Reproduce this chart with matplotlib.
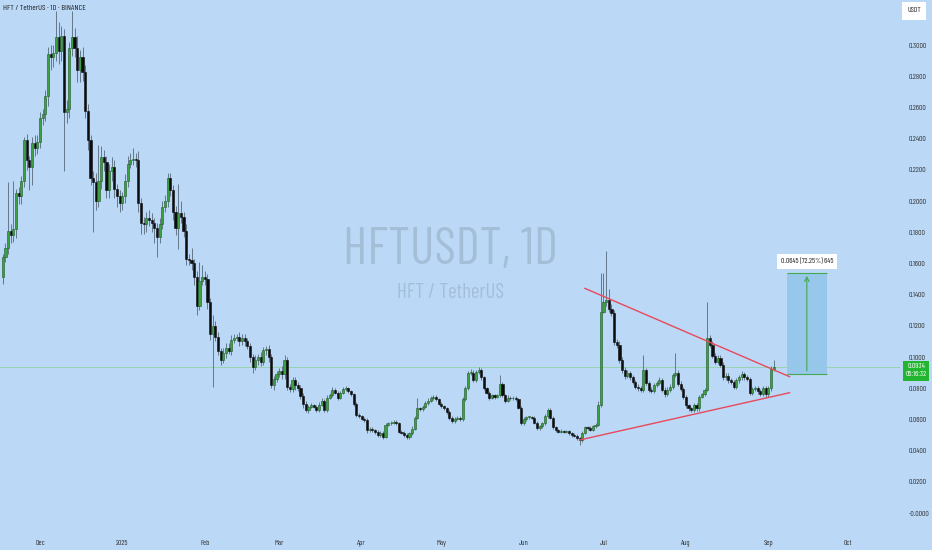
import matplotlib
matplotlib.use("Agg")
import matplotlib.pyplot as plt
import matplotlib.dates as mdates
import numpy as np
import pandas as pd

plt.rcParams['font.family'] = ['Barlow Condensed', 'Archivo Narrow', 'Liberation Sans', 'DejaVu Sans']

# daily closes, HFT/USDT, 2024-11-17 .. 2025-09-03
first_open = 0.151
closes_nov_dec = [0.164, 0.170, 0.181, 0.178, 0.182, 0.205, 0.203, 0.213, 0.239, 0.226,
                  0.222, 0.237, 0.234, 0.238, 0.253, 0.256, 0.267, 0.294, 0.292, 0.295,
                  0.305, 0.296, 0.306, 0.257, 0.259, 0.298, 0.305, 0.298, 0.284, 0.292,
                  0.283, 0.258, 0.239, 0.215, 0.212, 0.200, 0.213, 0.228, 0.225, 0.207,
                  0.219, 0.222, 0.208, 0.203, 0.199, 0.203, 0.213, 0.224, 0.226, 0.227,
                  0.226, 0.199, 0.186, 0.185, 0.189, 0.188, 0.186, 0.183, 0.177, 0.185]
closes_jan_mar = [0.196, 0.200, 0.215, 0.207, 0.193, 0.183, 0.192, 0.190, 0.181, 0.163,
                  0.162, 0.160, 0.151, 0.133, 0.149, 0.151, 0.150, 0.135, 0.115, 0.120,
                  0.113, 0.104, 0.098, 0.1025, 0.106, 0.104, 0.111, 0.112, 0.113, 0.110,
                  0.112, 0.110, 0.107, 0.100, 0.0936, 0.098, 0.100, 0.097, 0.1045, 0.105,
                  0.100, 0.082, 0.086, 0.089, 0.091, 0.089, 0.098, 0.081, 0.0795, 0.0855,
                  0.082, 0.080, 0.075, 0.070]
closes_mar_may = [0.066, 0.068, 0.069, 0.068, 0.066, 0.0695, 0.072, 0.066, 0.074, 0.0755,
                  0.079, 0.077, 0.074, 0.077, 0.0795, 0.080, 0.078, 0.076, 0.070, 0.063,
                  0.062, 0.0605, 0.0596, 0.053, 0.054, 0.053, 0.052, 0.050, 0.0515, 0.049,
                  0.0565, 0.0575, 0.058, 0.0585, 0.0575, 0.052, 0.0515, 0.050, 0.0487, 0.051,
                  0.054, 0.061, 0.067, 0.0665, 0.068, 0.0705, 0.072, 0.0737, 0.0745, 0.073,
                  0.070, 0.0685, 0.067, 0.065, 0.061, 0.059, 0.0605, 0.0612, 0.060]
closes_may_jun = [0.073, 0.080, 0.0897, 0.090, 0.085, 0.0903, 0.0917, 0.087, 0.080, 0.077,
                  0.074, 0.0755, 0.0745, 0.0755, 0.083, 0.0756, 0.072, 0.074, 0.0735, 0.074,
                  0.073, 0.0675, 0.0577, 0.060, 0.0615, 0.0615, 0.061, 0.058, 0.0545, 0.0555,
                  0.0575, 0.062, 0.066, 0.061, 0.055, 0.053, 0.052, 0.0525, 0.052, 0.0525,
                  0.051, 0.050, 0.0495, 0.048, 0.0468, 0.0515, 0.055, 0.0545, 0.0535, 0.0555,
                  0.0565, 0.069]
closes_jun_sep = [0.129, 0.135, 0.1365, 0.131, 0.128, 0.1096, 0.108, 0.098, 0.0917, 0.088,
                  0.0895, 0.087, 0.084, 0.081, 0.080, 0.079, 0.0917, 0.0833, 0.079, 0.0785,
                  0.082, 0.0833, 0.085, 0.079, 0.0765, 0.079, 0.081, 0.0885, 0.090, 0.083,
                  0.0795, 0.0744, 0.069, 0.067, 0.066, 0.0695, 0.067, 0.0744, 0.076, 0.079,
                  0.112, 0.108, 0.1006, 0.097, 0.0995, 0.095, 0.087, 0.088, 0.085, 0.084,
                  0.081, 0.085, 0.087, 0.089, 0.087, 0.086, 0.077, 0.0795, 0.080, 0.078,
                  0.0765, 0.080, 0.076, 0.080, 0.0923, 0.0934]

# wick lengths beyond the body, in 0.001 USDT
wick_up = [2, 3, 31, 4, 31, 3, 4, 3, 2, 4, 3, 4, 5, 4, 4, 3, 4, 5, 6, 5,
           17, 10, 6, 4, 6, 4, 17, 6, 8, 5, 7, 4, 4, 3, 4, 6, 23, 7, 5, 4,
           5, 6, 4, 3, 4, 3, 4, 5, 5, 7, 4, 6, 3, 4, 4, 5, 4, 3, 3, 4,
           4, 4, 3, 3, 3, 4, 19, 8, 3, 4, 3, 8, 3, 4, 12, 8, 4, 3, 3, 7,
           3, 3, 2, 3, 3, 3, 3, 3, 2, 3, 3, 3, 2, 2, 2, 3, 2, 3, 2, 2,
           3, 2, 2, 2, 2, 3, 3, 2, 2, 2, 2, 2, 2, 2,
           1.5, 1, 1.5, 1, 1, 1.5, 1.5, 1, 1.5, 1.5, 1.5, 1, 1.5, 1, 1.5, 1.5, 1, 1, 1, 1,
           1, 1, 1, 1, 1, 1, 1, 1, 1, 1, 1.5, 1, 1, 1, 1, 1, 1, 1, 1, 1,
           1.5, 1.5, 6.5, 1, 1, 1, 1.5, 1, 1, 1, 1, 1, 1, 1, 1, 1, 1, 1, 1,
           1.5, 1.5, 1.5, 2, 1.5, 1.5, 2, 1, 1, 1, 1, 1, 1, 1, 5.5, 1, 1, 1.5, 1, 1,
           1, 1, 1, 1.5, 1, 1, 1, 1, 1, 1, 1, 1.5, 1.5, 1, 1, 1, 1, 1.5, 1, 1,
           1, 1, 1, 1, 1, 1, 1, 1, 1, 1, 1.5, 3,
           25, 19, 31.5, 7, 3, 2, 2, 2, 2, 2, 2, 1.5, 1.5, 1.5, 1.5, 1.5, 9.6, 1.5, 1.5, 1.5,
           1.5, 1.5, 2, 1.5, 1.5, 1.5, 1.5, 1.5, 12.6, 1.5, 1.5, 1.5, 1, 1, 1, 1, 1, 1, 1, 1,
           23, 2, 2, 2, 1.5, 1.5, 1.5, 1.5, 1.5, 1.5, 1.5, 1.5, 1.5, 2, 1.5, 1.5, 1.5, 1.5, 1.5, 1.5,
           1.5, 1.5, 1.5, 1.5, 2, 4.6]
wick_dn = [4, 3, 4, 5, 4, 6, 5, 5, 4, 6, 15, 12, 5, 4, 4, 4, 5, 6, 8, 6,
           5, 8, 6, 38, 7, 6, 5, 6, 8, 8, 6, 5, 6, 5, 32, 6, 4, 5, 6, 5,
           5, 6, 6, 7, 6, 5, 4, 4, 3, 3, 4, 6, 7, 6, 5, 4, 6, 10, 13, 4,
           3, 3, 4, 4, 5, 5, 14, 4, 4, 4, 3, 4, 5, 6, 3, 3, 4, 4, 4, 34,
           3, 3, 3, 2, 3, 2, 3, 2, 2, 3, 2, 3, 2, 3, 4, 2, 3, 3, 2, 3,
           3, 2, 3, 2, 2, 3, 3, 2, 2, 2, 3, 2, 2, 3,
           1.5, 2, 1, 1, 1.5, 1, 1, 1.5, 1, 1, 1, 1, 1.5, 1, 1, 1, 1, 1, 1.5, 1.5,
           1, 1, 1.5, 2, 1, 1, 1.5, 1.5, 1.5, 1.5, 1, 1, 1, 1, 1, 1, 1, 1, 1.5, 1,
           1, 1, 1, 1, 1, 1, 1, 1, 1, 1, 1, 1, 1, 1.5, 1.5, 1.5, 1, 1, 1,
           1, 1, 1, 1, 1, 1, 1, 1.5, 1, 1, 1.5, 1, 1.5, 1, 1, 1, 1.5, 1, 1, 1,
           1, 1, 1.5, 1, 1, 1, 1, 1, 1.5, 1, 1, 1, 1, 1, 1, 1, 1, 1, 1, 1,
           1, 1, 1, 1, 3.2, 1, 1, 1, 1, 1, 1, 1,
           1, 1, 2, 2, 2, 2, 2, 2, 2, 2, 1.5, 1.5, 1.5, 1.5, 1.5, 1.5, 1.5, 1.5, 1.5, 1.5,
           1.5, 1.5, 1.5, 1.5, 2, 1.5, 1.5, 1.5, 1.5, 1.5, 1.5, 1.5, 1.5, 1.5, 1.5, 1.5, 1.5, 1.5, 1, 1,
           1, 1.5, 1.5, 1.5, 1.5, 1.5, 1.5, 1.5, 1.5, 1.5, 1.5, 1.5, 1.5, 1.5, 1.5, 1.5, 1.5, 1.5, 1.5, 1.5,
           1.5, 1.5, 1.5, 1.5, 1.5, 1]

# triangle trendlines (date, price)
upper_line = (['2025-06-24', '2025-09-09'], [0.1440, 0.0874])
lower_line = (['2025-06-22', '2025-09-09'], [0.0468, 0.0771])
# long-position measurement box
target_dates = ['2025-09-08', '2025-09-23']
target_prices = [0.0893, 0.1538]
last_price = 0.0934

y_ticks = [0.0, 0.02, 0.04, 0.06, 0.08, 0.10, 0.12, 0.14, 0.16, 0.18,
           0.20, 0.22, 0.24, 0.26, 0.28, 0.30]
month_starts = ['2024-12-01', '2025-01-01', '2025-02-01', '2025-03-01', '2025-04-01',
                '2025-05-01', '2025-06-01', '2025-07-01', '2025-08-01', '2025-09-01',
                '2025-10-01']
month_labels = ['Dec', '2025', 'Feb', 'Mar', 'Apr', 'May', 'Jun', 'Jul', 'Aug', 'Sep', 'Oct']

closes = np.array(closes_nov_dec + closes_jan_mar + closes_mar_may + closes_may_jun + closes_jun_sep)
opens = np.concatenate([[first_open], closes[:-1]])
highs = np.maximum(opens, closes) + np.array(wick_up) / 1000
lows = np.minimum(opens, closes) - np.array(wick_dn) / 1000
dates = pd.date_range('2024-11-17', periods=len(closes), freq='D')
x = mdates.date2num(dates)

bg = '#bbd9f7'
fig = plt.figure(figsize=(9.32, 5.5), dpi=100, facecolor=bg)
ax = fig.add_axes([0, 20 / 550, 900 / 932, 530 / 550], facecolor=bg)

dec1 = mdates.date2num(pd.Timestamp('2024-12-01'))
ax.set_xlim(dec1 - 40 / 2.658, dec1 + 860 / 2.658)
ax.set_ylim(-17 / 1560, 513 / 1560)

# watermark
ax.text(0.501, 0.528, 'HFTUSDT, 1D', transform=ax.transAxes, ha='center', va='center',
        fontsize=37, color='#a5bed8', zorder=0)
ax.text(0.501, 0.448, 'HFT / TetherUS', transform=ax.transAxes, ha='center', va='center',
        fontsize=15, color='#a5bed8', zorder=0)

up = closes >= opens
ax.vlines(x, lows, highs, color='#56687a', lw=0.6, zorder=2)
ax.bar(x, np.maximum(np.abs(closes - opens), 0.0005), width=0.8,
       bottom=np.minimum(opens, closes),
       color=np.where(up, '#3c9f40', '#0d0d0d'),
       edgecolor=np.where(up, '#1f5a23', '#0d0d0d'), linewidth=0.4, zorder=3)

ax.axhline(last_price, color='#8fd3a0', lw=0.6, zorder=1)

for d, p in (upper_line, lower_line):
    ax.plot(mdates.date2num(pd.to_datetime(d)), p, color='#e8485c', lw=1.0, zorder=4)

tx = mdates.date2num(pd.to_datetime(target_dates))
ax.fill_between(tx, target_prices[0], target_prices[1], color='#93c6ea', alpha=0.9, lw=0, zorder=1)
ax.hlines(target_prices, tx[0], tx[1], color='#46a84f', lw=0.8, zorder=2)
xm = tx.mean()
ax.annotate('', xy=(xm, target_prices[1]), xytext=(xm, target_prices[0]),
            arrowprops=dict(arrowstyle='->', color='#46a84f', lw=0.8, mutation_scale=8), zorder=3)
ax.text(xm, target_prices[1] + 0.005, '0.0645 (72.25%) 645', ha='center', va='bottom', fontsize=5.5,
        color='#222222', bbox=dict(boxstyle='square,pad=0.5', fc='white', ec='none'), zorder=5)

ax.set_xticks(mdates.date2num(pd.to_datetime(month_starts)))
ax.set_xticklabels(month_labels)
ax.set_yticks(y_ticks)
ax.set_yticklabels(['-0.0000'] + [f'{v:.4f}' for v in y_ticks[1:]])
ax.yaxis.tick_right()
ax.tick_params(axis='both', length=0, labelsize=5.5, colors='#333333')
ax.tick_params(axis='y', pad=6)
ax.tick_params(axis='x', pad=7)
for s in ax.spines.values():
    s.set_visible(False)

# header and right-scale labels
fig.text(3 / 932, 1 - 9 / 550, 'HFT / TetherUS · 1D · BINANCE', fontsize=6, color='#222222',
         ha='left', va='center')
fig.text(914 / 932, 1 - 11 / 550, 'USDT', fontsize=5.5, color='#222222', ha='center', va='center',
         bbox=dict(boxstyle='square,pad=0.7', fc='white', ec='none'))
fig.text(916 / 932, 1 - 371 / 550, '0.0934\n05:16:32', fontsize=5.5, color='white', ha='center',
         va='center', linespacing=1.2,
         bbox=dict(boxstyle='square,pad=0.35', fc='#22b52f', ec='none'))

fig.savefig('out.png', dpi=100, facecolor=bg)
